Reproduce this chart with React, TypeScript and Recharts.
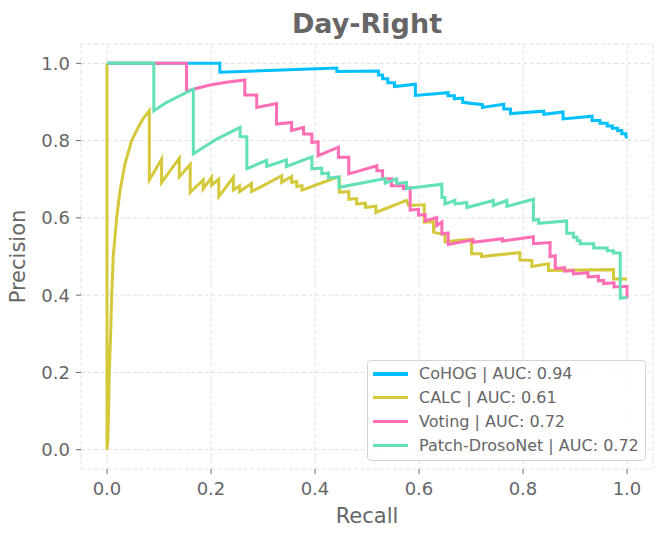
import { LineChart, Line, XAxis, YAxis, CartesianGrid, Legend } from 'recharts';

// (recall, precision) points
const cohogPoints: [number, number][] = [
  [0, 1.0], [0.217, 1.0], [0.217, 0.977], [0.442, 0.988], [0.442, 0.979],
  [0.522, 0.98], [0.522, 0.97], [0.53, 0.97], [0.53, 0.96], [0.54, 0.96],
  [0.54, 0.95], [0.553, 0.95], [0.553, 0.94], [0.593, 0.946], [0.593, 0.917],
  [0.656, 0.924], [0.656, 0.916], [0.668, 0.916], [0.668, 0.908], [0.684, 0.91],
  [0.684, 0.899], [0.722, 0.893], [0.722, 0.886], [0.763, 0.894], [0.763, 0.882],
  [0.776, 0.882], [0.776, 0.87], [0.84, 0.876], [0.84, 0.868], [0.877, 0.874],
  [0.877, 0.856], [0.933, 0.863], [0.933, 0.852], [0.948, 0.852], [0.948, 0.845],
  [0.962, 0.845], [0.962, 0.838], [0.972, 0.838], [0.972, 0.832], [0.982, 0.832],
  [0.982, 0.826], [0.99, 0.826], [0.99, 0.818], [0.998, 0.818], [0.998, 0.811],
  [1.0, 0.806],
];

const calcPoints: [number, number][] = [
  [0, 1.0], [0, 0.0], [0.0015, 0.02], [0.003, 0.1], [0.0045, 0.2], [0.007, 0.3],
  [0.009, 0.4], [0.012, 0.5], [0.0186, 0.6], [0.025, 0.67], [0.0346, 0.74],
  [0.0474, 0.8], [0.06, 0.834], [0.07, 0.858], [0.0814, 0.877], [0.0814, 0.698],
  [0.105, 0.752], [0.105, 0.692], [0.139, 0.754], [0.139, 0.706], [0.16, 0.738],
  [0.16, 0.666], [0.185, 0.698], [0.185, 0.675], [0.201, 0.705], [0.201, 0.685],
  [0.215, 0.7], [0.215, 0.655], [0.243, 0.705], [0.243, 0.672], [0.255, 0.683],
  [0.255, 0.668], [0.278, 0.689], [0.278, 0.668], [0.294, 0.679], [0.336, 0.709],
  [0.336, 0.692], [0.355, 0.707], [0.355, 0.692], [0.365, 0.694], [0.365, 0.681],
  [0.375, 0.683], [0.375, 0.672], [0.438, 0.703], [0.447, 0.705], [0.447, 0.666],
  [0.465, 0.668], [0.465, 0.648], [0.48, 0.65], [0.48, 0.636], [0.497, 0.638],
  [0.497, 0.627], [0.517, 0.63], [0.517, 0.614], [0.576, 0.645], [0.58, 0.632],
  [0.61, 0.634], [0.61, 0.589], [0.628, 0.59], [0.628, 0.563], [0.65, 0.556],
  [0.65, 0.538], [0.701, 0.545], [0.701, 0.507], [0.72, 0.507], [0.72, 0.5],
  [0.794, 0.51], [0.794, 0.491], [0.817, 0.49], [0.817, 0.474], [0.849, 0.481],
  [0.849, 0.464], [0.974, 0.466], [0.974, 0.442], [1.0, 0.442],
];

const votingPoints: [number, number][] = [
  [0, 1.0], [0.153, 1.0], [0.153, 0.928], [0.175, 0.936], [0.198, 0.944],
  [0.23, 0.951], [0.265, 0.957], [0.265, 0.918], [0.288, 0.918], [0.288, 0.886],
  [0.326, 0.896], [0.326, 0.843], [0.355, 0.847], [0.355, 0.826], [0.378, 0.834],
  [0.378, 0.817], [0.394, 0.817], [0.394, 0.795], [0.406, 0.797], [0.406, 0.761],
  [0.445, 0.783], [0.445, 0.757], [0.465, 0.757], [0.465, 0.714], [0.519, 0.735],
  [0.519, 0.722], [0.53, 0.722], [0.53, 0.701], [0.547, 0.701], [0.547, 0.683],
  [0.57, 0.683], [0.57, 0.676], [0.583, 0.678], [0.583, 0.62], [0.599, 0.622],
  [0.599, 0.607], [0.612, 0.609], [0.612, 0.592], [0.634, 0.601], [0.634, 0.58],
  [0.644, 0.589], [0.644, 0.559], [0.656, 0.561], [0.656, 0.531], [0.704, 0.543],
  [0.704, 0.537], [0.76, 0.546], [0.76, 0.54], [0.82, 0.551], [0.82, 0.533],
  [0.852, 0.536], [0.852, 0.5], [0.862, 0.502], [0.862, 0.469], [0.88, 0.471],
  [0.88, 0.462], [0.897, 0.464], [0.897, 0.455], [0.925, 0.458], [0.925, 0.447],
  [0.945, 0.449], [0.945, 0.437], [0.955, 0.438], [0.955, 0.43], [0.975, 0.432],
  [0.975, 0.421], [1.0, 0.423], [1.0, 0.392],
];

const drosoPoints: [number, number][] = [
  [0, 1.0], [0.09, 1.0], [0.09, 0.877], [0.115, 0.899], [0.14, 0.916],
  [0.166, 0.933], [0.166, 0.766], [0.211, 0.804], [0.256, 0.834], [0.256, 0.81],
  [0.269, 0.81], [0.269, 0.727], [0.307, 0.749], [0.307, 0.733], [0.345, 0.75],
  [0.345, 0.733], [0.394, 0.758], [0.394, 0.727], [0.413, 0.729], [0.413, 0.714],
  [0.426, 0.716], [0.426, 0.703], [0.446, 0.706], [0.446, 0.679], [0.535, 0.702],
  [0.535, 0.69], [0.557, 0.701], [0.557, 0.689], [0.576, 0.692], [0.576, 0.676],
  [0.644, 0.687], [0.644, 0.653], [0.65, 0.653], [0.65, 0.636], [0.669, 0.645],
  [0.669, 0.636], [0.692, 0.64], [0.692, 0.627], [0.743, 0.645], [0.743, 0.632],
  [0.769, 0.645], [0.769, 0.63], [0.82, 0.648], [0.82, 0.594], [0.83, 0.596],
  [0.83, 0.586], [0.884, 0.592], [0.884, 0.56], [0.897, 0.56], [0.897, 0.55],
  [0.904, 0.55], [0.904, 0.541], [0.91, 0.541], [0.91, 0.533], [0.936, 0.533],
  [0.936, 0.522], [0.962, 0.522], [0.962, 0.515], [0.974, 0.515], [0.974, 0.509],
  [0.987, 0.509], [0.987, 0.392], [1.0, 0.394],
];

const seriesNames = ['CoHOG', 'CALC', 'Voting', 'Patch-DrosoNet'];
const seriesAuc = [0.94, 0.61, 0.72, 0.72];
const seriesColors = ['#00bfff', '#d4c93a', '#ff6eb4', '#62e0b6'];
const seriesPoints = [cohogPoints, calcPoints, votingPoints, drosoPoints];
const axisTicks = [0, 0.2, 0.4, 0.6, 0.8, 1.0];

const FONT = '"DejaVu Sans", sans-serif';
const TEXT = '#666666';

const toRows = (pts: [number, number][]) => pts.map(([r, p]) => ({ r, p }));

function LegendBox() {
  return (
    <div
      style={{
        boxSizing: 'border-box',
        width: 279,
        height: 101,
        border: '1px solid #d4d4d4',
        borderRadius: 4,
        background: 'rgba(255,255,255,0.85)',
        padding: '1px 5px',
        fontFamily: FONT,
        fontSize: 16,
        color: TEXT,
      }}
    >
      {seriesNames.map((name, i) => (
        <div key={name} style={{ display: 'flex', alignItems: 'center', height: 23.8 }}>
          <span style={{ width: 35, height: 3.5, background: seriesColors[i], marginRight: 11 }} />
          <span style={{ whiteSpace: 'nowrap' }}>
            {name} | AUC: {seriesAuc[i].toFixed(2)}
          </span>
        </div>
      ))}
    </div>
  );
}

export default function App() {
  return (
    <div style={{ position: 'absolute', left: 0, top: 0, width: 665, height: 539, background: '#fff' }}>
      <LineChart width={665} height={539} margin={{ top: 44, right: 12, left: 0, bottom: 0 }}>
        <CartesianGrid stroke="#e0e0e0" strokeDasharray="4 2.5" />
        <XAxis
          dataKey="r"
          type="number"
          domain={[-0.05, 1.05]}
          ticks={axisTicks}
          tickFormatter={(v: number) => v.toFixed(1)}
          axisLine={false}
          tickLine={{ stroke: '#666' }}
          tickSize={5}
          tickMargin={8}
          height={70}
          tick={{ fill: TEXT, fontSize: 18, fontFamily: FONT }}
          label={{
            content: ({ viewBox }: any) => (
              <text
                x={viewBox.x + viewBox.width / 2}
                y={viewBox.y + 54}
                textAnchor="middle"
                fill={TEXT}
                fontSize={21}
                fontFamily={FONT}
              >
                Recall
              </text>
            ),
          }}
        />
        <YAxis
          type="number"
          domain={[-0.05, 1.05]}
          ticks={axisTicks}
          tickFormatter={(v: number) => v.toFixed(1)}
          axisLine={false}
          tickLine={{ stroke: '#666' }}
          tickSize={5}
          tickMargin={6}
          width={81}
          tick={{ fill: TEXT, fontSize: 18, fontFamily: FONT }}
          label={{
            content: ({ viewBox }: any) => {
              const cy = viewBox.y + viewBox.height / 2;
              return (
                <text
                  x={25}
                  y={cy}
                  transform={`rotate(-90 25 ${cy})`}
                  textAnchor="middle"
                  fill={TEXT}
                  fontSize={21}
                  fontFamily={FONT}
                >
                  Precision
                </text>
              );
            },
          }}
        />
        {seriesPoints.map((pts, i) => (
          <Line
            key={seriesNames[i]}
            data={toRows(pts)}
            dataKey="p"
            name={seriesNames[i]}
            type="linear"
            stroke={seriesColors[i]}
            strokeWidth={3}
            dot={false}
            activeDot={false}
            isAnimationActive={false}
          />
        ))}
        <Legend
          layout="vertical"
          align="center"
          verticalAlign="middle"
          content={() => <LegendBox />}
          wrapperStyle={{ left: 367, top: 360, right: 'auto', bottom: 'auto', width: 279, height: 101 }}
        />
      </LineChart>
      <svg
        width={665}
        height={50}
        style={{ position: 'absolute', left: 0, top: 0, pointerEvents: 'none' }}
      >
        <text x={367} y={33} textAnchor="middle" fill={TEXT} fontSize={27} fontWeight="bold" fontFamily={FONT}>
          Day-Right
        </text>
      </svg>
    </div>
  );
}
